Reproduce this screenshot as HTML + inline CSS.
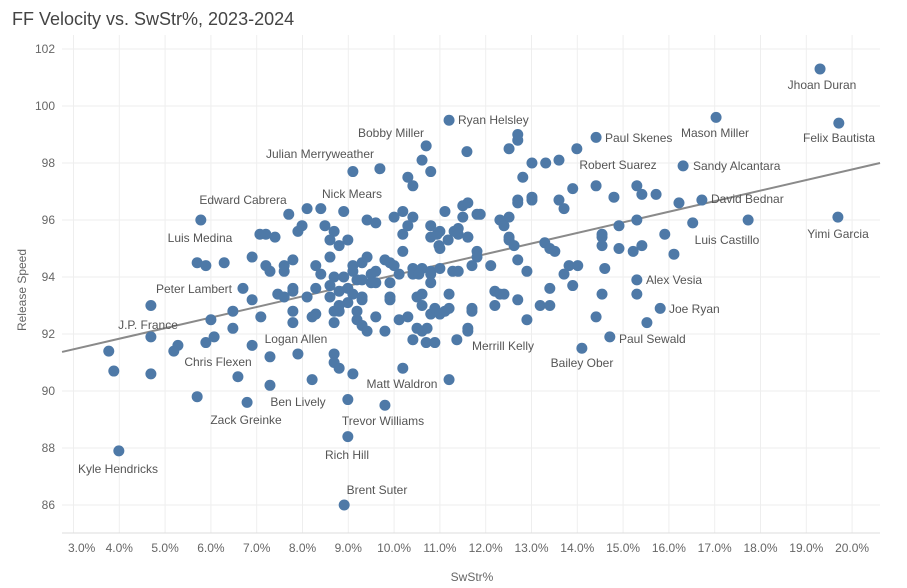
<!DOCTYPE html>
<html><head><meta charset="utf-8"><style>
body{margin:0;background:#fff;}
svg{display:block;font-family:"Liberation Sans",sans-serif;}
.lbl{font-size:12px;fill:#555;}
.tick{font-size:12px;fill:#666;}
</style></head><body>
<svg id="chart" width="907" height="588">
<text x="12" y="25" font-size="18" fill="#444">FF Velocity vs. SwStr%, 2023-2024</text>
<g id="grid"></g>
<g id="axes"></g>
<g id="trend"></g>
<g id="pts"></g>
<g id="labels"></g>
<text x="472" y="581" text-anchor="middle" class="tick" fill="#444">SwStr%</text>
<text transform="translate(26,290) rotate(-90)" text-anchor="middle" class="tick" fill="#444">Release Speed</text>
</svg>
<script>
const xTicks=[3,4,5,6,7,8,9,10,11,12,13,14,15,16,17,18,19,20];
const yTicks=[86,88,90,92,94,96,98,100,102];
const trendSlope=0.3712;
const trendIntercept=90.35;
const swstr=[5.78,7.70,7.07,7.20,7.40,7.90,5.70,5.89,6.29,6.90,7.20,7.29,7.60,7.60,7.79,6.70,6.90,7.46,7.60,7.79,7.79,4.69,6.00,6.48,7.09,7.79,7.79,4.69,5.28,5.89,6.07,6.48,3.77,5.19,6.90,7.29,7.90,3.88,4.69,6.59,7.29,5.70,6.79,
10.70,11.59,10.61,10.80,9.10,9.69,10.30,10.41,8.10,8.40,8.90,7.99,8.49,8.69,8.60,8.80,8.99,9.41,9.60,10.00,10.19,10.30,10.41,10.19,10.19,11.11,11.50,11.61,11.50,11.81,10.80,11.00,10.80,10.94,11.18,11.31,11.40,11.40,10.98,11.00,11.61,11.61,11.81,11.81,11.70,8.29,8.40,8.60,8.69,8.90,9.10,9.10,9.30,9.41,9.50,9.60,9.50,9.60,9.80,9.91,10.00,10.11,10.41,10.41,10.61,10.54,10.80,10.80,10.80,11.00,11.28,11.40,8.10,8.29,8.60,8.60,8.80,8.99,9.19,9.30,9.10,9.30,9.30,8.99,9.91,9.91,9.91,10.50,10.61,10.61,11.20,8.21,8.29,8.69,8.69,8.80,8.80,9.19,9.19,9.30,9.41,9.60,9.80,10.11,10.30,10.50,10.61,10.72,10.41,10.70,10.89,11.37,11.61,11.61,10.80,10.89,11.00,11.11,11.20,11.70,11.70,8.69,8.69,8.80,9.10,8.21,10.19,11.20,8.99,9.80,11.20,8.99,8.91,3.99,
12.70,12.70,12.51,13.99,14.41,13.01,13.31,13.60,12.81,14.41,13.90,13.60,13.71,13.01,13.01,12.70,12.70,12.51,11.88,12.31,12.40,12.51,12.51,12.62,13.29,13.40,13.51,12.70,12.90,12.11,13.71,13.82,14.01,13.40,13.90,12.20,12.31,12.40,12.20,12.70,13.19,13.40,12.90,14.41,14.10,
16.31,15.30,15.41,15.72,14.80,16.22,16.72,14.91,15.30,16.52,17.73,19.69,14.54,14.54,14.54,14.91,15.22,15.41,15.91,16.11,14.60,15.30,15.30,14.54,15.81,15.52,14.71,17.03,19.30,19.71];
const velo=[96.0,96.2,95.5,95.5,95.4,95.6,94.5,94.4,94.5,94.7,94.4,94.2,94.4,94.2,94.6,93.6,93.2,93.4,93.3,93.6,93.5,93.0,92.5,92.8,92.6,92.8,92.4,91.9,91.6,91.7,91.9,92.2,91.4,91.4,91.6,91.2,91.3,90.7,90.6,90.5,90.2,89.8,89.6,
98.6,98.4,98.1,97.7,97.7,97.8,97.5,97.2,96.4,96.4,96.3,95.8,95.8,95.6,95.3,95.1,95.3,96.0,95.9,96.1,96.3,95.8,96.1,95.5,94.9,96.3,96.5,96.6,96.1,96.2,95.8,95.6,95.4,95.5,95.3,95.6,95.7,95.5,95.1,95.0,95.4,95.4,94.9,94.7,94.4,94.4,94.1,94.7,94.0,94.0,94.4,94.2,94.5,94.7,94.1,94.2,93.8,93.8,94.6,94.5,94.4,94.1,94.3,94.1,94.3,94.1,94.2,94.1,93.8,94.3,94.2,94.2,93.3,93.6,93.7,93.3,93.5,93.6,93.9,93.9,93.4,93.2,93.3,93.1,93.8,93.3,93.2,93.3,93.4,93.0,93.4,92.6,92.7,92.8,92.4,92.8,93.0,92.8,92.5,92.3,92.1,92.6,92.1,92.5,92.6,92.2,92.1,92.2,91.8,91.7,91.7,91.8,92.2,92.1,92.7,92.9,92.7,92.8,92.9,92.9,92.8,91.3,91.0,90.8,90.6,90.4,90.8,90.4,89.7,89.5,99.5,88.4,86.0,87.9,
99.0,98.8,98.5,98.5,98.9,98.0,98.0,98.1,97.5,97.2,97.1,96.7,96.4,96.8,96.7,96.7,96.6,96.1,96.2,96.0,95.8,95.4,95.3,95.1,95.2,95.0,94.9,94.6,94.2,94.4,94.1,94.4,94.4,93.6,93.7,93.5,93.4,93.4,93.0,93.2,93.0,93.0,92.5,92.6,91.5,
97.9,97.2,96.9,96.9,96.8,96.6,96.7,95.8,96.0,95.9,96.0,96.1,95.5,95.4,95.1,95.0,94.9,95.1,95.5,94.8,94.3,93.9,93.4,93.4,92.9,92.4,91.9,99.6,101.3,99.4];
const labelNames=["Jhoan Duran","Felix Bautista","Mason Miller","Ryan Helsley","Paul Skenes","Bobby Miller","Julian Merryweather","Robert Suarez","Sandy Alcantara","David Bednar","Edward Cabrera","Nick Mears","Luis Castillo","Yimi Garcia","Luis Medina","Peter Lambert","Alex Vesia","J.P. France","Joe Ryan","Logan Allen","Merrill Kelly","Paul Sewald","Chris Flexen","Bailey Ober","Matt Waldron","Ben Lively","Zack Greinke","Trevor Williams","Rich Hill","Kyle Hendricks","Brent Suter"];
const labelPos=[[822,89,"middle"],[839,142,"middle"],[715,137,"middle"],[458,124,"start"],[605,142,"start"],[391,137,"middle"],[320,158,"middle"],[618,169,"middle"],[693,170,"start"],[711,203,"start"],[243,204,"middle"],[352,198,"middle"],[727,244,"middle"],[838,238,"middle"],[200,242,"middle"],[194,293,"middle"],[646,284,"start"],[148,329,"middle"],[669,313,"start"],[296,343,"middle"],[503,350,"middle"],[619,343,"start"],[218,366,"middle"],[582,367,"middle"],[402,388,"middle"],[298,406,"middle"],[246,424,"middle"],[383,425,"middle"],[347,459,"middle"],[118,473,"middle"],[377,494,"middle"]];
const NS="http://www.w3.org/2000/svg";
const X=v=>119.3+(v-4)*45.8;
const Y=v=>505-(v-86)*28.5;
const L=62,R=880,T=35,B=533;
function mk(tag,attrs,parent){const e=document.createElementNS(NS,tag);for(const k in attrs)e.setAttribute(k,attrs[k]);parent.appendChild(e);return e;}
const grid=document.getElementById('grid'),axes=document.getElementById('axes');
xTicks.forEach(t=>{
  const l=mk('line',{x1:X(t),x2:X(t),y1:T,y2:B,stroke:'#eeeeee'},grid);
  
  
  const tx=mk('text',{x:t===3?68:X(t),y:552,'text-anchor':t===3?'start':'middle',class:'tick'},axes);
  tx.textContent=t.toFixed(1)+'%';
  
  
});
yTicks.forEach(t=>{
  const l=mk('line',{x1:L,x2:R,y1:Y(t),y2:Y(t),stroke:'#eeeeee'},grid);
  
  
  const tx=mk('text',{x:55,y:Y(t)+4,'text-anchor':'end',class:'tick'},axes);
  tx.textContent=t;
  
  
});
const ax=mk('line',{x1:L,x2:R,y1:B,y2:B,stroke:'#dddddd'},axes);


const xa=2.75,xb=20.61;
const tl=mk('line',{x1:X(xa),x2:X(xb),y1:Y(trendIntercept+trendSlope*xa),y2:Y(trendIntercept+trendSlope*xb),stroke:'#8a8a8a','stroke-width':2},document.getElementById('trend'));


const pts=document.getElementById('pts');
swstr.forEach((s,i)=>{
  const c=mk('circle',{cx:X(s),cy:Y(velo[i]),r:5.5,fill:'#4e79a7'},pts);
  
  
});
const lg=document.getElementById('labels');
labelNames.forEach((n,i)=>{
  const p=labelPos[i];
  const t=mk('text',{x:p[0],y:p[1],'text-anchor':p[2],class:'lbl'},lg);
  t.textContent=n;
  
  
});
</script>
</body></html>
